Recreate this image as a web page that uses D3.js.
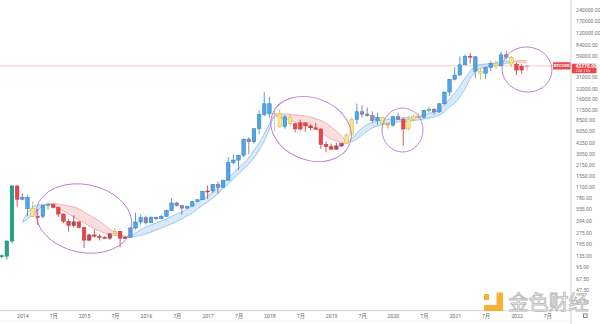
<!DOCTYPE html>
<html>
<head>
<meta charset="utf-8">
<script src="https://cdn.jsdelivr.net/npm/d3@7"></script>
<style>
  html, body { margin: 0; padding: 0; background: #ffffff; }
  svg { display: block; }
</style>
</head>
<body>
<svg id="chart" width="600" height="324"></svg>
<script>
// BTCUSD monthly candles, Sep 2013 – Mar 2022
const firstMonth = new Date(2013, 8, 1);
const symbol = "BTCUSD";
const countdown = "22d 13h";

const opens = [135,133,211,1129,
  754,800,565,445,447,627,640,586,480,386,338,378,
  320,217,254,244,236,230,263,284,230,236,314,377,
  430,368,437,416,448,531,673,624,575,609,700,742,
  963,970,1190,1080,1348,2300,2480,2875,4700,4340,6450,9950,
  13800,10200,10300,6900,9250,7500,6400,7730,7030,6630,6370,4000,
  3740,3460,3820,4100,5320,8570,10820,10080,9590,8290,9150,7540,
  7190,9350,8540,6410,8630,9450,9140,11350,11650,10780,13800,19700,
  28990,33100,45200,58800,57700,37300,35000,41500,47100,43800,61300,57000,
  46200,38500,43200];
const highs = [140,215,1163,1165,
  900,850,700,560,630,680,650,600,490,415,460,385,
  320,265,300,260,245,268,315,285,245,325,502,470,
  460,445,440,470,550,780,700,630,610,720,750,975,
  1150,1200,1290,1350,2700,2950,2920,4750,4980,6450,11400,19600,
  17200,11800,11700,9750,10000,7770,8500,7750,7400,7680,6600,4400,
  4100,4200,4140,5620,9100,13880,13200,12300,10950,10500,9500,7750,
  9600,10500,9180,9460,10080,10400,11450,12470,12080,14100,19900,29300,
  41900,58300,61700,64800,59500,41300,42300,50500,52900,67000,69000,59100,
  47900,45800,45000];
const lows = [125,120,198,600,
  730,450,440,345,420,550,570,440,365,280,320,310,
  170,210,235,214,227,220,250,175,225,235,300,350,
  350,365,400,412,440,525,600,470,570,605,690,740,
  760,910,890,1070,1340,2200,1850,2700,2980,4100,5500,9400,
  9000,6000,6600,6450,7050,5750,6100,5880,6100,6200,3500,3150,
  3400,3400,3700,4050,5300,7450,9100,9400,7750,7300,6500,6430,
  6850,8420,3850,6150,8100,8900,8950,10600,9900,10400,13200,17600,
  28100,32300,44900,47000,30000,28800,29300,37300,39600,43300,53300,42000,
  33000,34300,37200];
const closes = [133,211,1129,754,
  800,565,445,447,627,640,586,480,386,338,378,320,
  217,254,244,236,230,263,284,230,236,314,377,430,
  368,437,416,448,531,673,624,575,609,700,742,963,
  970,1190,1080,1348,2300,2480,2875,4700,4340,6450,9950,13800,
  10200,10300,6900,9250,7500,6400,7730,7030,6630,6370,4000,3740,
  3460,3820,4100,5320,8570,10820,10080,9590,8290,9150,7540,7190,
  9350,8540,6410,8630,9450,9140,11350,11650,10780,13800,19700,28990,
  33100,45200,58800,57700,37300,35000,41500,47100,43800,61300,57000,46200,
  38500,43200,43778];

// trend colouring of each bar
const tones = ["T","T","T","R",
  "B","B","Y","R","B","G","R","R","R","R","D","R",
  "R","D","R","R","R","D","Y","R","D","B","B","B",
  "P","B","P","B","B","B","P","P","B","B","B","B",
  "R","B","P","B","B","B","B","B","P","B","B","B",
  "B","L","Y","B","Y","R","R","R","R","R","R","R",
  "R","D","D","Y","Y","B","P","P","P","B","Y","O",
  "B","P","R","Y","Y","O","B","G","P","B","B","B",
  "B","B","B","R","B","Y","B","B","Y","B","P","Y",
  "R","R","L"];

// trend ribbon (fast / slow average), starting Jan 2014
const ribbonStart = 4;
const ribbonFast = [377,496,596,633,643,643,614,569,527,481,439,401,
  366,334,305,287,270,258,250,243,239,246,270,296,
  324,344,366,389,413,446,481,511,560,614,683,760,
  832,940,1062,1237,1440,1677,1953,2274,2689,3330,4180,5498,
  7456,9657,9089,8682,8421,7923,7456,7122,6805,6403,5843,5174,
  4722,4443,4244,4180,4722,5668,6601,7343,7804,8168,8421,8552,
  8682,8816,8951,9089,9227,9368,9806,10264,10743,11773,13296,15963,
  19160,23714,30256,37438,43600,45635,46336,47043,47765,49241,50764,50000,
  49241,48498,47765];
const ribbonSlow = [366,413,467,544,614,653,662,653,633,614,596,560,
  511,467,426,389,344,305,278,258,246,239,243,250,
  262,278,296,314,334,355,383,413,453,496,560,623,
  693,783,898,1046,1200,1397,1626,1894,2206,2648,3378,4443,
  6403,9512,10110,10110,9956,9806,9657,9512,9227,8816,8294,7686,
  6805,6024,5174,4420,4380,4722,5333,6024,6601,7015,7343,7570,
  7804,7923,8045,8168,8294,8421,8682,8951,9227,9806,10743,12511,
  14130,16964,21645,29348,36315,40407,42291,43600,44264,45635,47043,48498,
  50764,51544,51544];

const priceTicks = [33.5,47.5,67.5,95,135,195,275,394,555,780,1100,1550,2150,
  3050,4250,6050,8500,11500,16000,22000,31000,59000,84000,120000,170000,240000];

const toneFill = {T:"#25a28c",B:"#52a4e6",R:"#e5474d",D:"#b14f5c",Y:"#f6e68c",
  P:"#8d88b6",O:"#f5b36c",G:"#62c3a2",L:"#f5b9b9"};
const toneStroke = {T:"#178a76",B:"#2f80c3",R:"#c93137",D:"#8e3a47",Y:"#d2b63c",
  P:"#6d689b",O:"#e38a32",G:"#3ea17f",L:"#e79393"};

const svg = d3.select("#chart");
const plotRight = 571;
const lastIndex = 110;

const monthAt = i => d3.timeMonth.offset(firstMonth, i);
const x = d3.scaleLinear().domain([0, 100]).range([1.7, 516.5]);
const y = d3.scaleLog().domain([47.5, 240000]).range([290, 10]);

const plot = svg.append("g");
const clipAll = svg.append("defs").append("clipPath").attr("id", "plotClip");
clipAll.append("rect").attr("x", 0).attr("y", 0).attr("width", plotRight).attr("height", 310);
plot.attr("clip-path", "url(#plotClip)");

// ----- ribbon -----
const ribbon = ribbonFast.map((f, k) => ({ i: ribbonStart + k, fast: f, slow: ribbonSlow[k] }));
const segs = [];
let segStart = x(ribbon[0].i);
let bull = ribbon[0].fast >= ribbon[0].slow;
for (let k = 0; k < ribbon.length - 1; k++) {
  const a = ribbon[k], b = ribbon[k + 1];
  const da = Math.log(a.fast) - Math.log(a.slow);
  const db = Math.log(b.fast) - Math.log(b.slow);
  if ((da >= 0) !== (db >= 0)) {
    const t = da / (da - db);
    const xc = x(a.i + t);
    segs.push({ x0: segStart, x1: xc, bull });
    segStart = xc;
    bull = db >= 0;
  }
}
segs.push({ x0: segStart, x1: x(ribbon[ribbon.length - 1].i), bull });

const defs = svg.select("defs");
["bull", "bear"].forEach(kind => {
  const cp = defs.append("clipPath").attr("id", "rib-" + kind);
  segs.filter(s => s.bull === (kind === "bull")).forEach(s => {
    cp.append("rect").attr("x", s.x0).attr("y", 0).attr("width", Math.max(0, s.x1 - s.x0)).attr("height", 324);
  });
});

const ribArea = d3.area().x(d => x(d.i)).y0(d => y(d.slow)).y1(d => y(d.fast)).curve(d3.curveMonotoneX);
const fastLine = d3.line().x(d => x(d.i)).y(d => y(d.fast)).curve(d3.curveMonotoneX);
const slowLine = d3.line().x(d => x(d.i)).y(d => y(d.slow)).curve(d3.curveMonotoneX);

const ribStyle = {
  bull: { fill: "rgba(125,185,236,0.30)", line: "#86bce8" },
  bear: { fill: "rgba(240,150,150,0.32)", line: "#eca2a2" }
};
["bull", "bear"].forEach(kind => {
  const g = plot.append("g").attr("clip-path", `url(#rib-${kind})`);
  g.append("path").datum(ribbon).attr("d", ribArea).attr("fill", ribStyle[kind].fill);
  g.append("path").datum(ribbon).attr("d", fastLine).attr("fill", "none")
    .attr("stroke", ribStyle[kind].line).attr("stroke-width", 0.8);
  g.append("path").datum(ribbon).attr("d", slowLine).attr("fill", "none")
    .attr("stroke", ribStyle[kind].line).attr("stroke-width", 0.8);
});

// ----- last price line -----
const lastPrice = closes[closes.length - 1];
plot.append("line")
  .attr("x1", 0).attr("x2", plotRight)
  .attr("y1", y(lastPrice)).attr("y2", y(lastPrice))
  .attr("stroke", "#f1b3b3").attr("stroke-width", 0.7);

// ----- candles -----
const bw = 3.6;
const bars = opens.map((o, i) => ({ i, o, h: highs[i], l: lows[i], c: closes[i], t: tones[i] }));
const cg = plot.append("g");
cg.selectAll("line.wick").data(bars).join("line")
  .attr("class", "wick")
  .attr("x1", d => x(d.i)).attr("x2", d => x(d.i))
  .attr("y1", d => y(d.h)).attr("y2", d => y(d.l))
  .attr("stroke", d => toneStroke[d.t]).attr("stroke-width", 0.8)
  .attr("opacity", d => d.t === "L" ? 0.8 : 1);
cg.selectAll("rect.body").data(bars).join("rect")
  .attr("class", "body")
  .attr("x", d => x(d.i) - bw / 2)
  .attr("width", bw)
  .attr("y", d => y(Math.max(d.o, d.c)))
  .attr("height", d => Math.max(1, Math.abs(y(d.o) - y(d.c))))
  .attr("fill", d => toneFill[d.t])
  .attr("stroke", d => toneStroke[d.t]).attr("stroke-width", 0.5);

// ----- highlight ellipses -----
const rings = [
  { cx: 84, cy: 218.5, rx: 48.5, ry: 34, rot: 12 },
  { cx: 311, cy: 129, rx: 41.5, ry: 31, rot: 21 },
  { cx: 402.5, cy: 130, rx: 20.5, ry: 22, rot: 0 },
  { cx: 527, cy: 69.5, rx: 25, ry: 22.5, rot: 8 }
];
plot.selectAll("ellipse.ring").data(rings).join("ellipse")
  .attr("class", "ring")
  .attr("cx", 0).attr("cy", 0)
  .attr("rx", d => d.rx).attr("ry", d => d.ry)
  .attr("transform", d => `translate(${d.cx},${d.cy}) rotate(${d.rot})`)
  .attr("fill", "none").attr("stroke", "#b77ccf").attr("stroke-width", 0.9);

// ----- axes frame -----
svg.append("line").attr("x1", 0).attr("x2", plotRight).attr("y1", 310.7).attr("y2", 310.7)
  .attr("stroke", "#cfcfcf").attr("stroke-width", 1);
svg.append("line").attr("x1", 0).attr("x2", plotRight).attr("y1", 321).attr("y2", 321)
  .attr("stroke", "#ececec").attr("stroke-width", 0.8);
svg.append("line").attr("x1", plotRight).attr("x2", plotRight).attr("y1", 0).attr("y2", 324)
  .attr("stroke", "#d4d4d4").attr("stroke-width", 1);

// price axis
const yAxis = svg.append("g").attr("transform", "translate(575,0)")
  .call(d3.axisRight(y).tickValues(priceTicks).tickSize(0).tickPadding(1)
    .tickFormat(d => d.toFixed(2)));
yAxis.select(".domain").remove();
yAxis.selectAll("text").attr("font-family", "Roboto, 'DejaVu Sans', sans-serif")
  .attr("font-size", 5.2).attr("fill", "#777").attr("text-anchor", "start");

// time axis
const timeIdx = d3.range(0, lastIndex + 1).filter(i => {
  const m = monthAt(i).getMonth();
  return m === 0 || m === 6;
});
const xAxis = svg.append("g").attr("transform", "translate(0,313)")
  .call(d3.axisBottom(x).tickValues(timeIdx).tickSize(0).tickPadding(1)
    .tickFormat(i => {
      const d = monthAt(i);
      return d.getMonth() === 0 ? String(d.getFullYear()) : (d.getMonth() + 1) + "月";
    }));
xAxis.select(".domain").remove();
xAxis.selectAll("text").attr("font-family", "Roboto, 'Noto Sans CJK SC', sans-serif")
  .attr("font-size", 5.2).attr("fill", "#666");

// settings square
svg.append("rect").attr("x", 583.5).attr("y", 314).attr("width", 3.6).attr("height", 3.6)
  .attr("fill", "none").attr("stroke", "#555").attr("stroke-width", 0.7);

// ----- last price tags -----
const py = y(lastPrice);
svg.append("rect").attr("x", 553).attr("y", py - 3.6).attr("width", 17.5).attr("height", 7.2)
  .attr("fill", "#e8474c").attr("rx", 0.6);
svg.append("text").attr("x", 561.7).attr("y", py + 1.6).attr("text-anchor", "middle")
  .attr("font-family", "Roboto, 'DejaVu Sans', sans-serif").attr("font-size", 4.2)
  .attr("font-weight", "bold").attr("fill", "#fff").text(symbol);
svg.append("rect").attr("x", 572).attr("y", py - 2.2).attr("width", 24.5).attr("height", 9.6)
  .attr("fill", "#e8474c").attr("rx", 0.6);
svg.append("text").attr("x", 575.5).attr("y", py + 1.7)
  .attr("font-family", "Roboto, 'DejaVu Sans', sans-serif").attr("font-size", 5)
  .attr("font-weight", "bold").attr("fill", "#fff").text(lastPrice.toFixed(2));
svg.append("text").attr("x", 575.5).attr("y", py + 6.3)
  .attr("font-family", "Roboto, 'DejaVu Sans', sans-serif").attr("font-size", 4)
  .attr("fill", "#fde3e3").text(countdown);

// ----- publisher mark -----
const mark = svg.append("g").attr("opacity", 0.95);
mark.append("rect").attr("x", 484).attr("y", 294).attr("width", 5).attr("height", 6).attr("fill", "#f5ad2a");
mark.append("rect").attr("x", 496.5).attr("y", 292.5).attr("width", 6.5).attr("height", 18.5).attr("fill", "#f5ad2a");
mark.append("rect").attr("x", 484).attr("y", 305).attr("width", 19).attr("height", 6).attr("fill", "#f5ad2a");
mark.append("text").attr("x", 508.5).attr("y", 310)
  .attr("font-family", "'Noto Sans CJK SC', sans-serif").attr("font-size", 20)
  .attr("fill", "#ffffff").attr("stroke", "#b9b9b9").attr("stroke-width", 0.9)
  .text("金色财经");
</script>
</body>
</html>
